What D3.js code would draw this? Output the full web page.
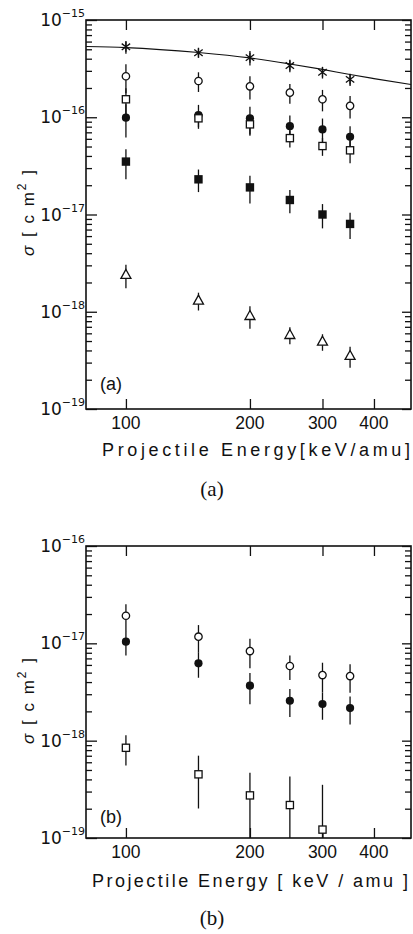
<!DOCTYPE html>
<html>
<head>
<meta charset="utf-8">
<script src="https://cdn.jsdelivr.net/npm/d3@7"></script>
<style>
  body { margin: 0; background: #fff; }
  svg { display: block; }
</style>
</head>
<body>
<div id="chart"></div>
<script>
// projectile energies [keV/amu]
const energies = [100, 150, 200, 250, 300, 350];
const energiesSq = [100, 150, 200, 250, 300];

// panel (a): cross sections [cm^2] and their errors
const starA = [5.3e-16, 4.6e-16, 4.1e-16, 3.4e-16, 2.9e-16, 2.45e-16];
const starErrA = [0.8e-16, 0.5e-16, 0.7e-16, 0.5e-16, 0.4e-16, 0.35e-16];
const openCircleA = [2.64e-16, 2.36e-16, 2.08e-16, 1.79e-16, 1.53e-16, 1.31e-16];
const openCircleErrA = [0.87e-16, 0.54e-16, 0.56e-16, 0.41e-16, 0.38e-16, 0.34e-16];
const openSquareA = [1.53e-16, 9.75e-17, 8.45e-17, 6.1e-17, 5.06e-17, 4.57e-17];
const openSquareErrA = [4.6e-17, 1.85e-17, 2.0e-17, 1.2e-17, 1.05e-17, 1.2e-17];
const filledCircleA = [9.9e-17, 1.05e-16, 9.75e-17, 8.1e-17, 7.5e-17, 6.3e-17];
const filledCircleErrA = [3.7e-17, 2.9e-17, 3.1e-17, 2.35e-17, 2.2e-17, 1.8e-17];
const filledSquareA = [3.5e-17, 2.3e-17, 1.9e-17, 1.41e-17, 1.0e-17, 8.0e-18];
const filledSquareErrA = [1.2e-17, 0.6e-17, 0.6e-17, 0.38e-17, 0.28e-17, 0.24e-17];
const triangleA = [2.39e-18, 1.3e-18, 9.04e-19, 5.77e-19, 4.92e-19, 3.51e-19];
const triangleErrA = [6.5e-19, 2.7e-19, 2.35e-19, 1.15e-19, 0.95e-19, 0.85e-19];

// panel (a): theory curve
const curveE = [80, 100, 150, 200, 250, 300, 350, 400, 492];
const curveA = [5.34e-16, 5.21e-16, 4.63e-16, 4.07e-16, 3.53e-16, 3.1e-16, 2.75e-16, 2.5e-16, 2.17e-16];

// panel (b)
const openCircleB = [1.92e-17, 1.17e-17, 8.33e-18, 5.85e-18, 4.72e-18, 4.61e-18];
const openCircleErrB = [6.0e-18, 3.7e-18, 2.8e-18, 1.65e-18, 1.6e-18, 1.5e-18];
const filledCircleB = [1.04e-17, 6.23e-18, 3.67e-18, 2.57e-18, 2.38e-18, 2.16e-18];
const filledCircleErrB = [2.9e-18, 1.8e-18, 1.3e-18, 0.82e-18, 0.74e-18, 0.69e-18];
const openSquareB = [8.45e-19, 4.51e-19, 2.74e-19, 2.18e-19, 1.22e-19];
const openSquareErrB = [2.9e-19, 2.5e-19, 1.95e-19, 2.1e-19, 2.3e-19];

// ticks
const xTicks = [100, 200, 300, 400];
const xTickLabels = ['100', '200', '300', '400'];
const yExpA = [-15, -16, -17, -18, -19];
const yExpB = [-16, -17, -18, -19];

const ink = '#111';
const width = 413;
const height = 934;

const svg = d3
  .select('#chart')
  .append('svg')
  .attr('width', width)
  .attr('height', height)
  .style('font-family', '"Liberation Sans", Arial, sans-serif');

// shared x scale
const x = d3.scaleLog().domain([80, 492]).range([86, 411]);

// marker shapes
const markers = {
  star: (g) =>
    g.append('path')
      .attr('d', 'M0,-5V5M-4.2,-3.2L4.2,3.2M-4.2,3.2L4.2,-3.2')
      .attr('fill', 'none').attr('stroke', ink).attr('stroke-width', 1.3),
  openCircle: (g) =>
    g.append('circle').attr('r', 3.7)
      .attr('fill', '#fff').attr('stroke', ink).attr('stroke-width', 1.3),
  filledCircle: (g) =>
    g.append('circle').attr('r', 4.1).attr('fill', ink),
  openSquare: (g) =>
    g.append('rect').attr('x', -3.6).attr('y', -3.6).attr('width', 7.2).attr('height', 7.2)
      .attr('fill', '#fff').attr('stroke', ink).attr('stroke-width', 1.3),
  filledSquare: (g) =>
    g.append('rect').attr('x', -4.2).attr('y', -4.2).attr('width', 8.4).attr('height', 8.4)
      .attr('fill', ink),
  triangle: (g) =>
    g.append('path').attr('d', 'M0,-5.5L5,3.5L-5,3.5Z')
      .attr('fill', '#fff').attr('stroke', ink).attr('stroke-width', 1.3),
};

function drawPanel(p) {
  const y = d3
    .scaleLog()
    .domain([Math.pow(10, d3.min(p.exps)), Math.pow(10, d3.max(p.exps))])
    .range([p.bottom, p.top])
    .clamp(true);
  const g = svg.append('g');

  const major = p.exps.map((e) => Math.pow(10, e));
  const minor = [];
  for (let e = d3.min(p.exps); e < d3.max(p.exps); e++) {
    for (let m = 2; m <= 9; m++) minor.push(m * Math.pow(10, e));
  }

  const clean = (sel) => {
    sel.select('.domain').remove();
    sel.selectAll('line').attr('stroke', ink).attr('stroke-width', 1.3);
  };

  // left axis (ticks pointing inward)
  g.append('g').attr('transform', `translate(86,0)`)
    .call(d3.axisLeft(y).tickValues(major).tickSize(-11).tickFormat('')).call(clean);
  g.append('g').attr('transform', `translate(86,0)`)
    .call(d3.axisLeft(y).tickValues(minor).tickSize(-6).tickFormat('')).call(clean);
  // right axis
  g.append('g').attr('transform', `translate(411,0)`)
    .call(d3.axisRight(y).tickValues(major).tickSize(-9).tickFormat('')).call(clean);
  g.append('g').attr('transform', `translate(411,0)`)
    .call(d3.axisRight(y).tickValues(minor).tickSize(-6).tickFormat('')).call(clean);
  // top / bottom axes
  g.append('g').attr('transform', `translate(0,${p.top})`)
    .call(d3.axisTop(x).tickValues(xTicks).tickSize(-10).tickFormat('')).call(clean);
  g.append('g').attr('transform', `translate(0,${p.bottom})`)
    .call(d3.axisBottom(x).tickValues(xTicks).tickSize(-10).tickFormat('')).call(clean);

  // frame
  g.append('rect')
    .attr('x', 86).attr('y', p.top)
    .attr('width', 411 - 86).attr('height', p.bottom - p.top)
    .attr('fill', 'none').attr('stroke', ink).attr('stroke-width', 1.6);

  // y tick labels 10^n
  const yl = g.selectAll('.ylab').data(p.exps).enter().append('text')
    .attr('x', 85)
    .attr('y', (e) => y(Math.pow(10, e)) + 6)
    .attr('text-anchor', 'end')
    .attr('fill', ink)
    .style('font-family', '"DejaVu Sans", sans-serif')
    .style('font-size', '17px');
  yl.append('tspan').text('10');
  yl.append('tspan').attr('dy', -9).style('font-size', '11px').text((e) => '\u2212' + Math.abs(e));

  // x tick labels
  g.selectAll('.xlab').data(xTicks).enter().append('text')
    .attr('x', (d) => x(d))
    .attr('y', p.bottom + 20)
    .attr('text-anchor', 'middle')
    .attr('fill', ink)
    .style('font-size', '17.5px')
    .text((d, i) => xTickLabels[i]);

  // theory curve
  if (p.curve) {
    g.append('path')
      .datum(p.curve)
      .attr('fill', 'none')
      .attr('stroke', ink)
      .attr('stroke-width', 1.2)
      .attr('d', d3.line().x((d) => x(d.e)).y((d) => y(d.v)).curve(d3.curveMonotoneX));
  }

  // error bars
  p.series.forEach((s) => {
    g.selectAll(null).data(s.data).enter().append('line')
      .attr('x1', (d) => x(d.e)).attr('x2', (d) => x(d.e))
      .attr('y1', (d) => y(d.v + d.err))
      .attr('y2', (d) => y(Math.max(d.v - d.err, 1e-22)))
      .attr('stroke', ink).attr('stroke-width', 1.3);
  });

  // markers
  p.series.forEach((s) => {
    s.data.forEach((d) => {
      const m = g.append('g').attr('transform', `translate(${x(d.e)},${y(d.v)})`);
      markers[s.shape](m);
    });
  });

  // panel tag inside plot
  g.append('text')
    .attr('x', 100).attr('y', p.tagY)
    .attr('fill', ink)
    .style('font-size', '18px')
    .text(p.tag);

  // x label
  g.append('text')
    .attr('x', p.xLab.x0).attr('y', p.xLab.y)
    .attr('textLength', p.xLab.len)
    .attr('lengthAdjust', 'spacing')
    .attr('fill', ink)
    .style('font-size', '18px')
    .text(p.xLab.text);

  // y label
  const ylab = g.append('text')
    .attr('transform', `translate(34,${p.yLabY}) rotate(-90)`)
    .attr('text-anchor', 'middle')
    .attr('fill', ink)
    .style('font-size', '17px')
    .style('letter-spacing', '2px');
  ylab.append('tspan').style('font-style', 'italic').text('\u03c3');
  ylab.append('tspan').text('  [ c m');
  ylab.append('tspan').attr('dy', -8).style('font-size', '12px').text('2');
  ylab.append('tspan').attr('dy', 8).text(' ]');

  // caption below
  svg.append('text')
    .attr('x', 212).attr('y', p.captionY)
    .attr('text-anchor', 'middle')
    .attr('fill', ink)
    .style('font-family', '"Liberation Serif", "Times New Roman", serif')
    .style('font-size', '21px')
    .text(p.caption);
}

const zip = (es, vs, errs) => es.map((e, i) => ({ e: e, v: vs[i], err: errs[i] }));

drawPanel({
  top: 20,
  bottom: 409,
  exps: yExpA,
  curve: curveE.map((e, i) => ({ e: e, v: curveA[i] })),
  series: [
    { shape: 'star', data: zip(energies, starA, starErrA) },
    { shape: 'triangle', data: zip(energies, triangleA, triangleErrA) },
    { shape: 'filledSquare', data: zip(energies, filledSquareA, filledSquareErrA) },
    { shape: 'filledCircle', data: zip(energies, filledCircleA, filledCircleErrA) },
    { shape: 'openSquare', data: zip(energies, openSquareA, openSquareErrA) },
    { shape: 'openCircle', data: zip(energies, openCircleA, openCircleErrA) },
  ],
  tag: '(a)',
  tagY: 390,
  xLab: { text: 'Projectile Energy[keV/amu]', x0: 102, y: 456, len: 308 },
  yLabY: 212,
  caption: '(a)',
  captionY: 496,
});

drawPanel({
  top: 546,
  bottom: 838,
  exps: yExpB,
  series: [
    { shape: 'openSquare', data: zip(energiesSq, openSquareB, openSquareErrB) },
    { shape: 'filledCircle', data: zip(energies, filledCircleB, filledCircleErrB) },
    { shape: 'openCircle', data: zip(energies, openCircleB, openCircleErrB) },
  ],
  tag: '(b)',
  tagY: 823,
  xLab: { text: 'Projectile Energy [ keV / amu ]', x0: 92, y: 887, len: 316 },
  yLabY: 700,
  caption: '(b)',
  captionY: 925,
});
</script>
</body>
</html>
